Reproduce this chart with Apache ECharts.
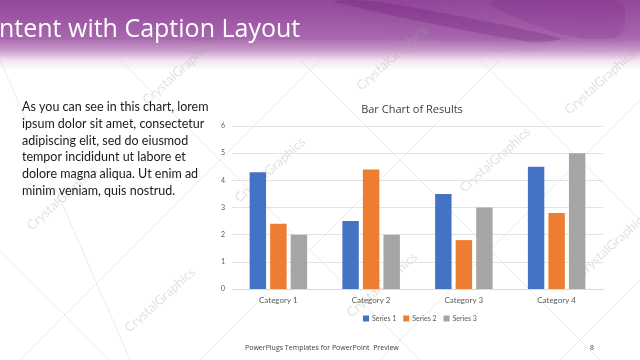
<!DOCTYPE html>
<html>
<head>
<meta charset="utf-8">
<script src="https://cdn.jsdelivr.net/npm/echarts@6/dist/echarts.min.js"></script>
<style>html,body{margin:0;padding:0;background:#fff;}#c{width:640px;height:360px;}</style>
</head>
<body>
<div id="c"></div>
<script>
const categories = ['Category 1', 'Category 2', 'Category 3', 'Category 4'];
const seriesNames = ['Series 1', 'Series 2', 'Series 3'];
const series1 = [4.3, 2.5, 3.5, 4.5];
const series2 = [2.4, 4.4, 1.8, 2.8];
const series3 = [2, 2, 3, 5];
const chartTitle = 'Bar Chart of Results';
const slideTitle = 'ntent with Caption Layout';
const captionLines = [
  'As you can see in this chart, lorem',
  'ipsum dolor sit amet, consectetur',
  'adipiscing elit, sed do eiusmod',
  'tempor incididunt ut labore et',
  'dolore magna aliqua. Ut enim ad',
  'minim veniam, quis nostrud.'
];
const footerText = 'PowerPlugs Templates for PowerPoint  Preview';
const pageNum = '8';
const watermark = 'CrystalGraphics';

const colors = ['#4472C4', '#ED7D31', '#A5A5A5'];
const chart = echarts.init(document.getElementById('c'), null, {renderer: 'canvas'});

const wmPos = [[178,72],[392,58],[600,82],[62,198],[270,170],[495,160],[612,245],[160,300],[382,285]];
const wm = wmPos.map(p => ({
  type: 'text', x: p[0], y: p[1], rotation: Math.PI * 42 / 180, z: -1,
  style: {text: watermark, fill: 'rgba(170,170,170,0.35)', font: '13px Lato', textAlign: 'center', textVerticalAlign: 'middle'}
}));
const lineSegs = [[0,60,130,360],[120,60,420,360],[300,60,600,360],[480,60,640,220],[0,250,110,360],[200,360,500,60],[380,360,640,100],[560,360,640,280],[20,360,320,60]];
const lines = lineSegs.map(s => ({
  type: 'line', z: -2, shape: {x1: s[0], y1: s[1], x2: s[2], y2: s[3]},
  style: {stroke: 'rgba(200,200,200,0.35)', lineWidth: 1}
}));

const option = {
  animation: false,
  color: colors,
  graphic: [
    {type: 'rect', z: -3, shape: {x: 0, y: 0, width: 640, height: 70},
      style: {fill: new echarts.graphic.LinearGradient(0, 0, 0, 1, [
        {offset: 0, color: '#93469a'}, {offset: 0.55, color: '#a868ad'}, {offset: 0.72, color: '#c99bcb'},
        {offset: 0.86, color: '#f1e3ef'}, {offset: 1, color: '#ffffff'}])}},
    {type: 'polygon', z: -3, shape: {points: [[335,2],[380,2],[560,38],[530,42]], smooth: 0.3},
      style: {fill: 'rgba(95,20,105,0.22)', shadowBlur: 20, shadowColor: 'rgba(95,20,105,0.5)'}},
    {type: 'polygon', z: -3, shape: {points: [[490,2],[620,2],[620,35],[565,35]], smooth: 0.3},
      style: {fill: 'rgba(110,30,120,0.15)', shadowBlur: 20, shadowColor: 'rgba(110,30,120,0.35)'}},
    ...lines,
    ...wm,
    {type: 'text', x: -1, y: 30, style: {text: slideTitle, fill: '#ffffff', font: '25px "Open Sans"', textVerticalAlign: 'middle'}},
    {type: 'text', x: 412, y: 110, style: {text: chartTitle, fill: '#404040', font: '11px "Open Sans"', textAlign: 'center', textVerticalAlign: 'middle'}},
    ...captionLines.map((t, i) => ({type: 'text', x: 22, y: 107 + i * 16.8,
      style: {text: t, fill: '#1a1a1a', font: '12.5px Lato', textVerticalAlign: 'middle'}})),
    {type: 'text', x: 245, y: 348, style: {text: footerText, fill: '#404040', font: '7px "Open Sans"', textVerticalAlign: 'middle'}},
    {type: 'text', x: 590, y: 348, style: {text: pageNum, fill: '#404040', font: '7px "Open Sans"', textVerticalAlign: 'middle'}}
  ],
  grid: {left: 232, right: 37, top: 126, bottom: 71},
  legend: {
    data: seriesNames, left: 358, top: 310, itemWidth: 6, itemHeight: 6, itemGap: 7, icon: 'rect',
    textStyle: {fontSize: 7, color: '#595959', fontFamily: 'Lato', padding: [0, 0, 0, -2]}
  },
  xAxis: {
    type: 'category', data: categories,
    axisLine: {lineStyle: {color: '#d9d9d9'}}, axisTick: {show: false},
    axisLabel: {fontSize: 8, color: '#595959', margin: 7, fontFamily: 'Lato'}
  },
  yAxis: {
    type: 'value', min: 0, max: 6, interval: 1,
    axisLine: {show: false}, axisTick: {show: false},
    splitLine: {lineStyle: {color: '#e3e3e3'}},
    axisLabel: {fontSize: 7, color: '#595959', margin: 7, fontFamily: 'Lato'}
  },
  series: [
    {name: seriesNames[0], type: 'bar', data: series1, barGap: '25%', barCategoryGap: '38%'},
    {name: seriesNames[1], type: 'bar', data: series2, barGap: '25%', barCategoryGap: '38%'},
    {name: seriesNames[2], type: 'bar', data: series3, barGap: '25%', barCategoryGap: '38%'}
  ]
};
chart.setOption(option);
</script>
</body>
</html>
